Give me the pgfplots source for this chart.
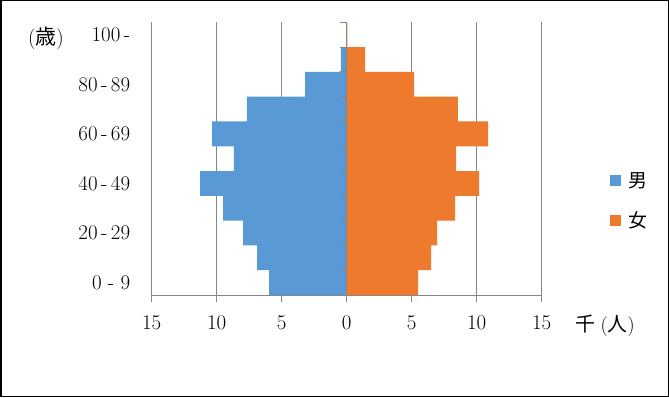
\documentclass[border=0pt]{standalone}
\usepackage{fontspec}
\usepackage{pgfplots}
\pgfplotsset{compat=1.18}
\newfontfamily\cjk{Noto Sans CJK JP}
\definecolor{gridgray}{RGB}{134,134,134}
\definecolor{mblue}{RGB}{88,153,214}
\definecolor{forange}{RGB}{238,122,46}
\begin{document}
\begin{tikzpicture}[x=1bp,y=1bp]
\useasboundingbox (0,0) rectangle (669,397);
\draw[line width=1.5bp] (0.75,0.75) rectangle (668.25,396.25);
\begin{axis}[
 at={(151.7bp,102bp)}, anchor=south west,
 scale only axis, width=390bp, height=272.7bp,
 xbar, bar width=1,
 xmin=-15, xmax=15, ymin=-0.5, ymax=10.5,
 xtick={-15,-10,-5,0,5,10,15},
 xticklabels={15,10,5,0,5,10,15},
 ytick={0,2,4,6,8,10},
 yticklabels={0 - 9,20\,-\,29,40\,-\,49,60\,-\,69,80\,-\,89,100\,-},
 axis x line*=bottom, axis y line*=left,
 axis line style={gridgray, line width=0.8bp},
 xmajorgrids, grid style={gridgray, line width=0.8bp},
 tick align=outside, major tick length=7bp,
 tick style={gridgray, line width=0.8bp},
 ytick style={draw=none},
 tick label style={font=\fontsize{21}{24}\selectfont, black},
 yticklabel style={xshift=-11bp},
 xticklabel style={yshift=-10bp},
 legend style={at={(1.175,0.458)}, anchor=north west, draw=none, fill=none,
   font=\cjk\fontsize{19}{21}\selectfont, row sep=19bp, inner sep=0pt,
   nodes={inner xsep=7bp}},
 legend cell align=left,
 legend image code/.code={\fill[#1,/tikz/.cd] (0bp,-5.5bp) rectangle (11bp,5.5bp);},
]
\addplot[bar shift=0, draw=none, fill=mblue] coordinates {
(-5.97,0) (-6.90,1) (-7.97,2) (-9.51,3) (-11.28,4) (-8.67,5) (-10.36,6) (-7.67,7) (-3.20,8) (-0.44,9) (0,10)};
\addlegendentry{男}
\addplot[bar shift=0, draw=none, fill=forange] coordinates {
(5.49,0) (6.49,1) (6.95,2) (8.33,3) (10.18,4) (8.41,5) (10.87,6) (8.56,7) (5.18,8) (1.41,9) (0.05,10)};
\addlegendentry{女}
\draw[gridgray, line width=0.8bp] (axis cs:0,-0.5) -- (axis cs:0,10.5);
\pgfplotsinvokeforeach{0.5,1.5,2.5,3.5,4.5,5.5,6.5,7.5,8.5,9.5,10.5}{
 \draw[gridgray, line width=0.8bp] (axis cs:0,#1) -- ++(-7bp,0bp);}
\end{axis}
\node[font=\fontsize{21}{23}\selectfont] at (46,359) {({\cjk 歳})};
\node[font=\fontsize{20}{22}\selectfont] at (605,71) {{\cjk 千}\;({\cjk 人})};
\end{tikzpicture}
\end{document}
